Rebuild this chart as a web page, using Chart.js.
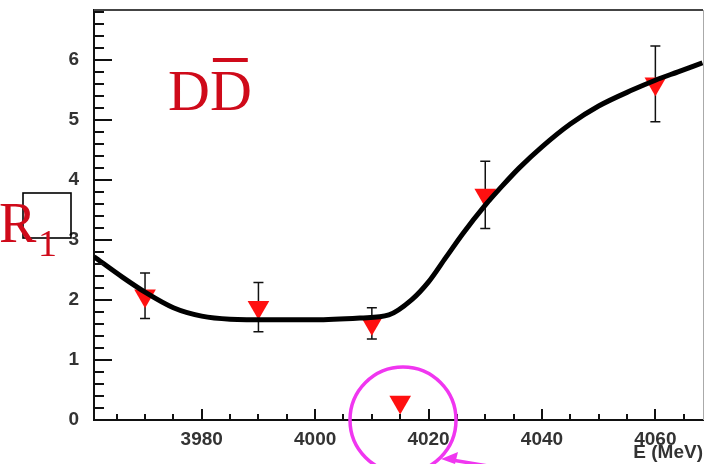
<!DOCTYPE html>
<html>
<head>
<meta charset="utf-8">
<script src="https://cdn.jsdelivr.net/npm/chart.js@4.4.1/dist/chart.umd.min.js"></script>
<style>
  html, body { margin: 0; padding: 0; background: #fff; }
  #wrap { width: 705px; height: 464px; }
</style>
</head>
<body>
<div id="wrap"><canvas id="ratioChart" width="705" height="464"></canvas></div>
<script>
// measured points (E in MeV, ratio R1 for DDbar)
const energies = [3970, 3990, 4010, 4015, 4030, 4060];
const ratio = [2.07, 1.88, 1.61, 0.30, 3.75, 5.60];
const ratioErr = [0.38, 0.41, 0.26, null, 0.56, 0.63];

// fitted curve
const curveE = [3961, 3966, 3970, 3975, 3980, 3985, 3992, 4000, 4008, 4013, 4017, 4020, 4023, 4026, 4030, 4033, 4036, 4040, 4045, 4050, 4056, 4060, 4064, 4068.3];
const curveR = [2.72, 2.38, 2.13, 1.87, 1.73, 1.68, 1.67, 1.67, 1.70, 1.75, 2.00, 2.30, 2.70, 3.10, 3.58, 3.90, 4.20, 4.55, 4.93, 5.23, 5.50, 5.66, 5.80, 5.95];

// axis labels
const xTickLabels = [3980, 4000, 4020, 4040, 4060];
const yTickLabels = [0, 1, 2, 3, 4, 5, 6];

const X_MIN = 3961, X_MAX = 4068.4;
const Y_MIN = 0, Y_MAX = 6.83;

// error bars, drawn under the markers and curve
const errorBars = {
    id: "errorBars",
    beforeDatasetsDraw(chart) {
        const { ctx, scales: { x, y } } = chart;
        ctx.save();
        ctx.strokeStyle = "#111";
        ctx.lineWidth = 1.5;
        energies.forEach((e, i) => {
            const err = ratioErr[i];
            if (!err) return;
            const px = x.getPixelForValue(e);
            const top = y.getPixelForValue(ratio[i] + err);
            const bot = y.getPixelForValue(ratio[i] - err);
            ctx.beginPath();
            ctx.moveTo(px, top); ctx.lineTo(px, bot);
            ctx.moveTo(px - 5, top); ctx.lineTo(px + 5, top);
            ctx.moveTo(px - 5, bot); ctx.lineTo(px + 5, bot);
            ctx.stroke();
        });
        ctx.restore();
    }
};

// ROOT style ticks pointing into the frame + top/right frame
const frameTicks = {
    id: "frameTicks",
    afterDraw(chart) {
        const { ctx, chartArea: a, scales: { x, y } } = chart;
        ctx.save();
        ctx.strokeStyle = "#444";
        ctx.lineWidth = 2;
        ctx.beginPath();
        ctx.moveTo(a.left, a.top); ctx.lineTo(a.right, a.top);
        ctx.stroke();
        ctx.strokeStyle = "#aaa";
        ctx.lineWidth = 1;
        ctx.beginPath();
        ctx.moveTo(a.right + 0.5, a.top); ctx.lineTo(a.right + 0.5, a.bottom);
        ctx.stroke();

        ctx.strokeStyle = "#111";
        ctx.lineWidth = 2;
        ctx.beginPath();
        for (let v = 0; v <= Y_MAX + 1e-6; v += 0.2) {
            const py = Math.round(y.getPixelForValue(v));
            const major = Math.abs(v - Math.round(v)) < 1e-6;
            ctx.moveTo(a.left, py);
            ctx.lineTo(a.left + (major ? 18 : 10), py);
        }
        for (let v = 3965; v <= X_MAX; v += 5) {
            const px = Math.round(x.getPixelForValue(v));
            const major = v % 20 === 0;
            ctx.moveTo(px, a.bottom);
            ctx.lineTo(px, a.bottom - (major ? 11 : 6));
        }
        ctx.stroke();
        ctx.restore();
    }
};

// hand-drawn annotations of the slide
const annotations = {
    id: "annotations",
    afterDraw(chart) {
        const { ctx } = chart;
        ctx.save();
        const red = "#cf0a1a";

        // D Dbar
        ctx.fillStyle = red;
        ctx.font = '58px "Liberation Serif"';
        ctx.textBaseline = "alphabetic";
        ctx.fillText("DD", 168, 110);
        const wD = ctx.measureText("D").width;
        ctx.fillRect(168 + wD + 3, 58, wD - 7, 4);

        // R1 with box
        ctx.strokeStyle = "#000";
        ctx.lineWidth = 1.6;
        ctx.strokeRect(23, 193, 48, 45);
        ctx.fillStyle = red;
        ctx.font = '56px "Liberation Serif"';
        ctx.fillText("R", -1, 242);
        ctx.font = '38px "Liberation Serif"';
        ctx.fillText("1", 38, 256);

        // magenta circle and arrow
        ctx.strokeStyle = "#f036f0";
        ctx.fillStyle = "#f036f0";
        ctx.lineWidth = 3.5;
        ctx.beginPath();
        ctx.arc(403, 420, 53, 0, Math.PI * 2);
        ctx.stroke();
        ctx.beginPath();
        ctx.moveTo(452, 460); ctx.lineTo(500, 468);
        ctx.stroke();
        ctx.beginPath();
        ctx.moveTo(441, 459);
        ctx.lineTo(458, 452);
        ctx.lineTo(455, 464);
        ctx.closePath();
        ctx.fill();
        ctx.restore();
    }
};

const tickFont = { family: "Liberation Sans", size: 19, weight: "bold" };

new Chart(document.getElementById("ratioChart"), {
    data: {
        datasets: [
            {
                type: "line",
                label: "fit",
                data: curveE.map((e, i) => ({ x: e, y: curveR[i] })),
                borderColor: "#000",
                borderWidth: 5,
                pointRadius: 0,
                cubicInterpolationMode: "monotone",
                fill: false,
                order: 1
            },
            {
                type: "scatter",
                label: "R1",
                data: energies.map((e, i) => ({ x: e, y: ratio[i] })),
                pointStyle: "triangle",
                rotation: 180,
                pointRadius: 12.5,
                backgroundColor: "#ff1010",
                borderWidth: 0,
                order: 2
            }
        ]
    },
    options: {
        responsive: false,
        animation: false,
        devicePixelRatio: 1,
        layout: {
            autoPadding: false,
            padding: { top: 10, right: 2, left: 0, bottom: 0 }
        },
        plugins: {
            legend: { display: false },
            tooltip: { enabled: false }
        },
        scales: {
            x: {
                type: "linear",
                min: X_MIN,
                max: X_MAX,
                grid: { display: false },
                border: { display: true, color: "#111", width: 2 },
                afterBuildTicks: scale => { scale.ticks = xTickLabels.map(v => ({ value: v })); },
                afterFit: scale => {
                    scale.height = 44;
                    scale.paddingLeft = 0;
                    scale.paddingRight = 0;
                },
                ticks: {
                    padding: 0,
                    color: "#333",
                    font: tickFont,
                    maxRotation: 0,
                    callback: v => String(v)
                },
                title: {
                    display: true,
                    text: "E (MeV)",
                    align: "end",
                    color: "#333",
                    padding: 0,
                    font: { family: "Liberation Sans", size: 19, weight: "bold", lineHeight: 1.2 }
                }
            },
            y: {
                type: "linear",
                min: Y_MIN,
                max: Y_MAX,
                grid: { display: false },
                border: { display: true, color: "#111", width: 2 },
                afterBuildTicks: scale => { scale.ticks = yTickLabels.map(v => ({ value: v })); },
                afterFit: scale => {
                    scale.width = 94;
                    scale.paddingTop = 0;
                    scale.paddingBottom = 0;
                },
                ticks: {
                    padding: 7,
                    color: "#333",
                    font: tickFont,
                    callback: v => String(v)
                }
            }
        }
    },
    plugins: [errorBars, frameTicks, annotations]
});
</script>
</body>
</html>
